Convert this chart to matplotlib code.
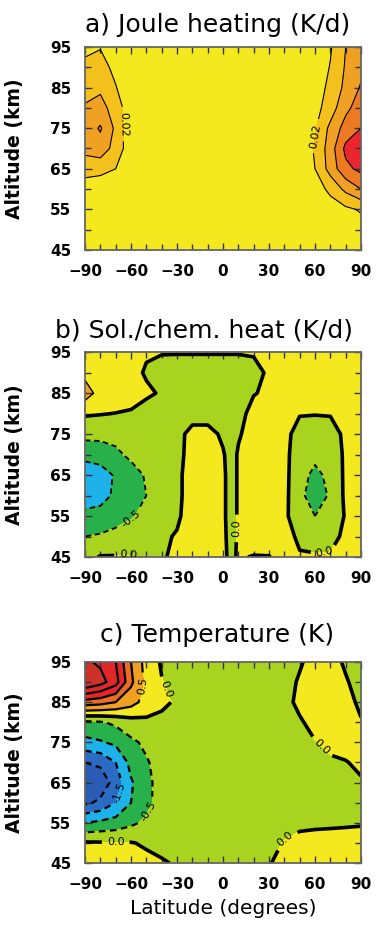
import numpy as np
import matplotlib
matplotlib.use("Agg")
import matplotlib.pyplot as plt
from matplotlib.ticker import MultipleLocator

# altitude rows shared by all three panels (km)
alt = [45, 50, 55, 60, 65, 70, 75, 80, 85, 90, 95]

# a) Joule heating (K/d)
lat_a = [-90, -80, -70, -60, -50, -40, -30, -20, -10, 0, 10, 20, 30, 40, 50, 60, 70, 80, 90]
joule = [
    [0, 0, 0, 0, 0, 0, 0, 0, 0, 0, 0, 0, 0, 0, 0, 0, 0.001, 0.003, 0.006],
    [0.001, 0.001, 0.001, 0, 0, 0, 0, 0, 0, 0, 0, 0, 0, 0, 0, 0.001, 0.004, 0.008, 0.012],
    [0.003, 0.003, 0.002, 0, 0, 0, 0, 0, 0, 0, 0, 0, 0, 0, 0.001, 0.004, 0.010, 0.016, 0.022],
    [0.010, 0.008, 0.007, 0.002, 0, 0, 0, 0, 0, 0, 0, 0, 0, 0, 0.003, 0.010, 0.025, 0.045, 0.060],
    [0.028, 0.026, 0.020, 0.005, 0, 0, 0, 0, 0, 0, 0, 0, 0, 0, 0.006, 0.020, 0.048, 0.075, 0.085],
    [0.046, 0.052, 0.032, 0.008, 0.001, 0, 0, 0, 0, 0, 0, 0, 0, 0, 0.007, 0.022, 0.050, 0.085, 0.098],
    [0.050, 0.062, 0.036, 0.005, 0.001, 0, 0, 0, 0, 0, 0, 0, 0, 0, 0.006, 0.018, 0.045, 0.068, 0.080],
    [0.042, 0.048, 0.030, 0.008, 0.001, 0, 0, 0, 0, 0, 0, 0, 0, 0, 0.005, 0.013, 0.030, 0.055, 0.070],
    [0.033, 0.036, 0.021, 0.006, 0.001, 0, 0, 0, 0, 0, 0, 0, 0, 0, 0.004, 0.010, 0.025, 0.045, 0.062],
    [0.025, 0.027, 0.015, 0.004, 0, 0, 0, 0, 0, 0, 0, 0, 0, 0, 0.003, 0.008, 0.021, 0.042, 0.055],
    [0.015, 0.019, 0.008, 0.002, 0, 0, 0, 0, 0, 0, 0, 0, 0, 0, 0.002, 0.006, 0.018, 0.040, 0.050],
]
lev_a = [0, 0.02, 0.04, 0.06, 0.08, 0.10]
col_a = ["#f4e81e", "#f4c01c", "#f0a022", "#ec7a20", "#e8262e"]

# b) solar / chemical heating (K/d)
lat_b = [-90, -80, -70, -60, -50, -40, -30, -20, -10, 0, 5, 10, 20, 30, 40, 50, 60, 70, 80, 90]
solchem = [
    [-0.15, 0.03, 0.03, 0.02, -0.05, -0.05, 0.1, 0.3, 0.3, 0.1, -0.1, 0.05, -0.03, -0.02, 0.2, 0.05, 0.05, 0.05, 0.15, 0.25],
    [-0.5, -0.45, -0.35, -0.2, -0.15, -0.1, 0.05, 0.3, 0.3, 0.1, -0.15, 0.05, 0.3, 0.3, 0.2, -0.1, -0.2, -0.15, 0.1, 0.25],
    [-0.85, -0.8, -0.7, -0.55, -0.35, -0.25, -0.1, 0.3, 0.3, 0.1, -0.2, 0.05, 0.3, 0.3, 0.12, -0.35, -0.5, -0.4, 0.05, 0.25],
    [-1.3, -1.2, -0.9, -0.7, -0.5, -0.3, -0.15, 0.3, 0.3, 0.1, -0.2, 0.05, 0.3, 0.3, 0.15, -0.4, -0.7, -0.45, 0.1, 0.25],
    [-1.3, -1.2, -0.95, -0.7, -0.45, -0.3, -0.15, 0.3, 0.3, 0.1, -0.2, 0.05, 0.3, 0.3, 0.15, -0.35, -0.6, -0.4, 0.1, 0.25],
    [-0.85, -0.8, -0.6, -0.4, -0.3, -0.3, -0.2, 0.25, 0.25, 0.05, -0.2, 0.05, 0.25, 0.25, 0.15, -0.3, -0.4, -0.35, 0.1, 0.25],
    [-0.35, -0.35, -0.35, -0.3, -0.25, -0.3, -0.2, 0.2, 0.2, -0.1, -0.2, -0.05, 0.2, 0.2, 0.15, -0.2, -0.25, -0.2, 0.1, 0.2],
    [0.05, 0.02, -0.01, -0.05, -0.2, -0.3, -0.35, -0.25, -0.25, -0.3, -0.3, -0.2, 0.2, 0.2, 0.15, 0.03, 0.02, 0.03, 0.15, 0.2],
    [0.75, 0.3, 0.25, 0.2, 0.08, -0.05, -0.25, -0.3, -0.3, -0.3, -0.3, -0.25, -0.03, 0.1, 0.2, 0.2, 0.2, 0.2, 0.2, 0.2],
    [0.35, 0.3, 0.25, 0.15, -0.05, -0.2, -0.25, -0.25, -0.25, -0.25, -0.25, -0.25, -0.1, 0.05, 0.2, 0.2, 0.2, 0.2, 0.2, 0.2],
    [0.2, 0.15, 0.1, 0.1, 0.05, 0.03, 0.03, 0.03, 0.03, 0.03, 0.03, 0.03, 0.03, 0.1, 0.15, 0.15, 0.15, 0.15, 0.15, 0.15],
]
lev_b = [-2.0, -1.0, -0.5, 0.0, 0.5, 1.0]
col_b = ["#1eb2ea", "#28b04a", "#a8d420", "#f4e81e", "#f0a022"]

# c) temperature change (K)
lat_c = [-90, -80, -70, -60, -50, -40, -30, -20, -10, 0, 10, 20, 30, 40, 50, 60, 70, 80, 90]
temp = [
    [0.15, 0.15, 0.15, 0.12, 0.1, 0.05, -0.05, -0.15, -0.2, -0.2, -0.2, -0.15, -0.02, 0.1, 0.15, 0.15, 0.15, 0.15, 0.15],
    [0.05, 0.04, 0.03, 0.02, -0.05, -0.15, -0.2, -0.2, -0.2, -0.2, -0.2, -0.2, -0.1, 0.02, 0.08, 0.1, 0.1, 0.1, 0.1],
    [-1.0, -0.9, -0.8, -0.6, -0.4, -0.2, -0.2, -0.2, -0.2, -0.2, -0.2, -0.2, -0.2, -0.1, -0.06, -0.05, -0.04, -0.03, -0.02],
    [-2.1, -1.9, -1.5, -1.0, -0.65, -0.25, -0.2, -0.2, -0.2, -0.2, -0.2, -0.2, -0.2, -0.2, -0.2, -0.2, -0.2, -0.2, -0.2],
    [-2.5, -2.3, -1.8, -1.05, -0.7, -0.2, -0.2, -0.2, -0.2, -0.2, -0.2, -0.2, -0.2, -0.2, -0.15, -0.1, -0.08, -0.05, -0.02],
    [-2.0, -1.9, -1.5, -0.85, -0.55, -0.3, -0.2, -0.2, -0.2, -0.2, -0.2, -0.2, -0.2, -0.2, -0.15, -0.08, -0.03, -0.01, 0.04],
    [-1.15, -1.05, -0.9, -0.6, -0.4, -0.25, -0.2, -0.2, -0.2, -0.2, -0.2, -0.2, -0.2, -0.15, -0.1, -0.01, 0.05, 0.08, 0.08],
    [-0.6, -0.55, -0.4, -0.2, -0.1, -0.1, -0.2, -0.2, -0.2, -0.2, -0.2, -0.2, -0.2, -0.12, -0.03, 0.08, 0.1, 0.06, 0.01],
    [1.3, 1.2, 1.0, 0.7, 0.3, 0.08, -0.05, -0.2, -0.2, -0.2, -0.2, -0.2, -0.2, -0.08, 0.06, 0.12, 0.1, 0.05, -0.03],
    [3.0, 2.7, 2.2, 1.1, 0.35, 0.02, -0.15, -0.2, -0.2, -0.2, -0.2, -0.2, -0.2, -0.1, 0.03, 0.12, 0.1, 0.02, -0.08],
    [2.6, 2.4, 2.0, 1.0, 0.3, -0.05, -0.15, -0.2, -0.2, -0.2, -0.2, -0.2, -0.2, -0.15, -0.03, 0.1, 0.08, -0.03, -0.1],
]
lev_c = [-3.0, -2.0, -1.5, -1.0, -0.5, 0.0, 0.5, 1.0, 1.5, 2.0, 2.5, 3.5]
col_c = ["#2a5cb6", "#2a6cc4", "#1eb2ea", "#28b04a", "#a8d420", "#f4e81e",
         "#f0a020", "#ec6c22", "#e8262a", "#e0282a", "#cc3228"]

DASH = [(0, (3, 2))]


def style_axes(ax):
    ax.set_xlim(-90, 90)
    ax.set_ylim(45, 95)
    ax.set_xticks([-90, -60, -30, 0, 30, 60, 90])
    ax.set_yticks([45, 55, 65, 75, 85, 95])
    ax.xaxis.set_minor_locator(MultipleLocator(10))
    ax.yaxis.set_minor_locator(MultipleLocator(5))
    ax.tick_params(which="both", direction="in", top=True, right=True,
                   color="#333333", width=1.0)
    ax.tick_params(which="major", length=5, pad=10, labelsize=11)
    ax.tick_params(which="minor", length=4)
    for lab in ax.get_xticklabels() + ax.get_yticklabels():
        lab.set_fontweight("bold")
    for sp in ax.spines.values():
        sp.set_color("#666666")
        sp.set_linewidth(1.3)
    ax.set_ylabel("Altitude (km)", fontsize=13.5, fontweight="bold")
    ax.yaxis.set_label_coords(-0.22, 0.5)


def line(ax, X, Y, Z, lvl, lw, ls="solid", labels=None):
    cs = ax.contour(X, Y, Z, levels=[lvl], colors="k", linewidths=lw, linestyles=ls)
    if labels:
        fmt = "%.2f" if abs(lvl) < 0.1 and lvl != 0 else "%.1f"
        ax.clabel(cs, fmt=fmt, fontsize=8, inline=True, manual=labels)
    return cs


fig = plt.figure(figsize=(3.78, 9.31), dpi=100)
ax_a = fig.add_axes([0.225, 0.7315, 0.730, 0.218])
ax_b = fig.add_axes([0.225, 0.4017, 0.730, 0.220])
ax_c = fig.add_axes([0.225, 0.0730, 0.730, 0.216])

# panel a
X, Y = np.meshgrid(lat_a, alt)
Z = np.array(joule)
ax_a.contourf(X, Y, Z, levels=lev_a, colors=col_a, extend="max")
ax_a.contour(X, Y, Z, levels=lev_a[2:], colors="k", linewidths=0.8)
line(ax_a, X, Y, Z, 0.02, 0.8, labels=[(-66, 76), (62, 73)])
style_axes(ax_a)

# panel b
X, Y = np.meshgrid(lat_b, alt)
Z = np.array(solchem)
ax_b.contourf(X, Y, Z, levels=lev_b, colors=col_b, extend="both")
line(ax_b, X, Y, Z, -1.0, 1.3, DASH)
line(ax_b, X, Y, Z, -0.5, 1.3, DASH, labels=[(-60, 54)])
line(ax_b, X, Y, Z, 0.5, 1.0)
line(ax_b, X, Y, Z, 0.0, 2.6, labels=[(-62, 45.5), (66, 47.5), (7, 52)])
style_axes(ax_b)

# panel c
X, Y = np.meshgrid(lat_c, alt)
Z = np.array(temp)
ax_c.contourf(X, Y, Z, levels=lev_c, colors=col_c, extend="both")
ax_c.contour(X, Y, Z, levels=[-2.5, -2.0, -1.0], colors="k", linewidths=1.6, linestyles=DASH)
line(ax_c, X, Y, Z, -1.5, 1.6, DASH, labels=[(-65, 62)])
line(ax_c, X, Y, Z, -0.5, 1.6, DASH, labels=[(-50, 58)])
ax_c.contour(X, Y, Z, levels=[1.0, 1.5, 2.0, 2.5], colors="k", linewidths=1.6)
line(ax_c, X, Y, Z, 0.5, 1.6, labels=[(-53, 89)])
line(ax_c, X, Y, Z, 0.0, 2.6, labels=[(-70, 50.5), (66, 74.5), (42, 50), (-38, 88)])
style_axes(ax_c)
ax_c.set_xlabel("Latitude (degrees)", fontsize=14.5, labelpad=5)

fig.text(0.575, 0.973, "a) Joule heating (K/d)", ha="center", va="center", fontsize=18)
fig.text(0.54, 0.645, "b) Sol./chem. heat (K/d)", ha="center", va="center", fontsize=18)
fig.text(0.575, 0.318, "c) Temperature (K)", ha="center", va="center", fontsize=18)

fig.savefig("out.png", dpi=100)
